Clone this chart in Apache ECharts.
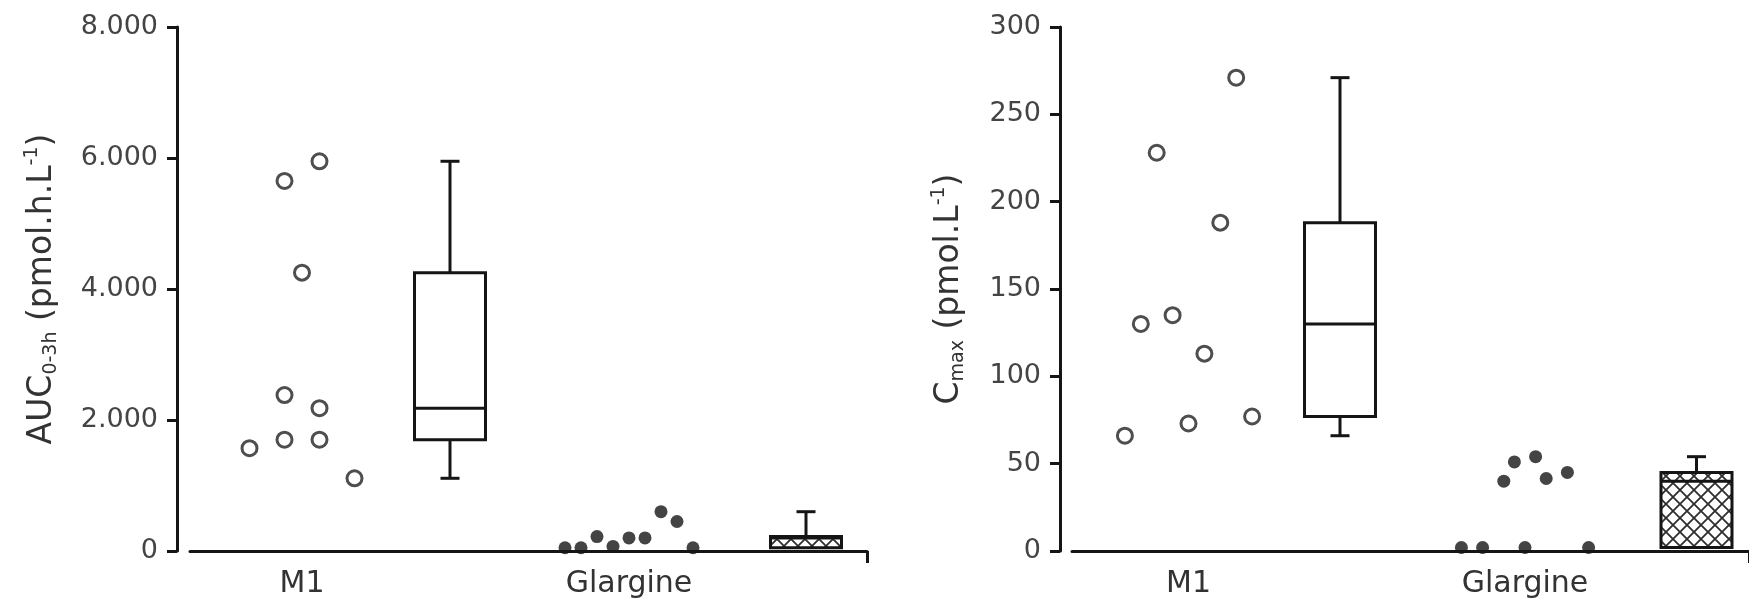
<!DOCTYPE html>
<html>
<head>
<meta charset="utf-8">
<script src="https://cdn.jsdelivr.net/npm/echarts@6/dist/echarts.min.js"></script>
<style>
  html, body { margin: 0; padding: 0; background: #fff; }
  #chart { width: 1749px; height: 609px; }
</style>
</head>
<body>
<div id="chart"></div>
<script>
// Treatment groups shown on both panels
const groups = ['M1', 'Glargine'];

// AUC 0-3h (pmol.h.L-1), one value per subject
const aucM1 = [1570, 5650, 2380, 1700, 4250, 5950, 2180, 1700, 1110];
const aucGlargine = [50, 50, 220, 70, 200, 200, 600, 450, 50];

// Cmax (pmol.L-1), one value per subject
const cmaxM1 = [66, 130, 228, 135, 73, 113, 188, 271, 77];
const cmaxGlargine = [2, 2, 40, 51, 2, 54, 41.5, 45, 2];

// y-axis ticks
const aucTicks = [0, 2000, 4000, 6000, 8000];
const cmaxTicks = [0, 50, 100, 150, 200, 250, 300];

// swarm column of each dot (left/right of the group centre)
const aucM1Cols = [-3, -1, -1, -1, 0, 1, 1, 1, 3];
const aucGlargineCols = [-4, -3, -2, -1, 0, 1, 2, 3, 4];
const cmaxM1Cols = [-4, -3, -2, -1, 0, 1, 2, 3, 4];
const cmaxGlargineCols = [-6, -4, -2, -1, 0, 1, 2, 4, 6];

// ---- layout (x axis runs in pixel-like units along each panel) ----
const AXIS_LEN = 677;
const BOX_W = 71;
const CAP_W = 19;
const INK = '#151515';
const FONT = 'DejaVu Sans';

const panels = [
  { left: 190, dotsAt: [112, 439], boxAt: [260, 616], steps: [17.5, 16] },
  { left: 1072, dotsAt: [116.5, 453], boxAt: [268, 624.5], steps: [15.9, 10.6] }
];

// Tukey hinges: min, lower hinge, median, upper hinge, max
function fiveNumber(vals) {
  const s = vals.slice().sort((a, b) => a - b);
  const n = s.length;
  const med = a => a.length % 2 ? a[(a.length - 1) / 2] : (a[a.length / 2 - 1] + a[a.length / 2]) / 2;
  const h = Math.ceil(n / 2);
  return [s[0], med(s.slice(0, h)), med(s), med(s.slice(n - h)), s[n - 1]];
}

// cross-hatch tile used for the Glargine boxes
function hatchTile() {
  const c = document.createElement('canvas');
  const t = 14;
  c.width = t; c.height = t;
  const g = c.getContext('2d');
  g.fillStyle = '#fff';
  g.fillRect(0, 0, t, t);
  g.strokeStyle = '#2e2e2e';
  g.lineWidth = 1.8;
  g.beginPath();
  g.moveTo(-1, -1); g.lineTo(t + 1, t + 1);
  g.moveTo(t + 1, -1); g.lineTo(-1, t + 1);
  g.stroke();
  return c;
}
const hatch = { image: hatchTile(), repeat: 'repeat' };

function renderBox(hatched) {
  return function (params, api) {
    const x = api.value(0);
    const lo = api.coord([x, api.value(1)]);
    const q1 = api.coord([x, api.value(2)]);
    const md = api.coord([x, api.value(3)]);
    const q3 = api.coord([x, api.value(4)]);
    const hi = api.coord([x, api.value(5)]);
    const cx = lo[0];
    const hw = BOX_W / 2, hc = CAP_W / 2;
    const ls = { stroke: INK, lineWidth: 3, fill: null };
    const seg = (x1, y1, x2, y2) => ({ type: 'line', shape: { x1, y1, x2, y2 }, style: ls });
    const kids = [];
    if (hi[1] < q3[1] - 0.5) {
      kids.push(seg(cx, hi[1], cx, q3[1]));
      kids.push(seg(cx - hc, hi[1], cx + hc, hi[1]));
    }
    if (lo[1] > q1[1] + 0.5) {
      kids.push(seg(cx, q1[1], cx, lo[1]));
      kids.push(seg(cx - hc, lo[1], cx + hc, lo[1]));
    }
    kids.push({
      type: 'rect',
      shape: { x: cx - hw, y: q3[1], width: BOX_W, height: q1[1] - q3[1] },
      style: { fill: hatched ? hatch : '#fff', stroke: INK, lineWidth: 3 }
    });
    kids.push(seg(cx - hw, md[1], cx + hw, md[1]));
    return { type: 'group', children: kids };
  };
}

function dots(values, cols, centre, step) {
  return values.map((v, i) => [centre + cols[i] * step, v]);
}

const thousands = v => String(v).replace(/\B(?=(\d{3})+(?!\d))/g, '.');

function xAxisFor(i, p) {
  return {
    type: 'value', gridIndex: i, min: 0, max: AXIS_LEN, z: 5,
    splitLine: { show: false },
    axisLine: { show: true, onZero: false, lineStyle: { color: INK, width: 3 } },
    axisTick: { show: true, customValues: [AXIS_LEN], length: 12, lineStyle: { color: INK, width: 3 } },
    axisLabel: {
      customValues: p.dotsAt,
      formatter: v => groups[p.dotsAt.indexOf(v)] || '',
      margin: 18, fontFamily: FONT, fontSize: 30, color: '#333'
    }
  };
}

function yAxisFor(i, ticks, nameRich, gap, fmt, off) {
  return {
    type: 'value', gridIndex: i, min: ticks[0], max: ticks[ticks.length - 1],
    interval: ticks[1] - ticks[0], offset: off,
    splitLine: { show: false },
    axisLine: { show: true, onZero: false, lineStyle: { color: INK, width: 3 } },
    axisTick: { show: true, length: 10, lineStyle: { color: INK, width: 3 } },
    axisLabel: { margin: 19, fontFamily: FONT, fontSize: 27, color: '#444', formatter: fmt },
    name: nameRich, nameLocation: 'middle', nameGap: gap,
    nameTextStyle: {
      fontFamily: FONT, color: '#333',
      rich: {
        n: { fontFamily: FONT, fontSize: 33, lineHeight: 38, color: '#333' },
        sub: { fontFamily: FONT, fontSize: 19, lineHeight: 18, verticalAlign: 'bottom', color: '#333' },
        sup: { fontFamily: FONT, fontSize: 19, lineHeight: 18, verticalAlign: 'top', color: '#333' }
      }
    }
  };
}

const openDot = { color: '#fff', borderColor: '#222', borderWidth: 3 };
const solidDot = { color: '#151515' };

const chart = echarts.init(document.getElementById('chart'), null, { renderer: 'canvas' });
chart.setOption({
  backgroundColor: '#fff',
  animation: false,
  grid: panels.map(p => ({ left: p.left, top: 27, width: AXIS_LEN, height: 524 })),
  xAxis: panels.map((p, i) => xAxisFor(i, p)),
  yAxis: [
    yAxisFor(0, aucTicks, '{n|AUC}{sub|0-3h}{n| (pmol.h.L}{sup|-1}{n|)}', 116, thousands, 13),
    yAxisFor(1, cmaxTicks, '{n|C}{sub|max}{n| (pmol.L}{sup|-1}{n|)}', 92, v => String(v), 12)
  ],
  series: [
    { type: 'scatter', xAxisIndex: 0, yAxisIndex: 0, symbolSize: 15, itemStyle: openDot,
      data: dots(aucM1, aucM1Cols, panels[0].dotsAt[0], panels[0].steps[0]) },
    { type: 'scatter', xAxisIndex: 0, yAxisIndex: 0, symbolSize: 13, itemStyle: solidDot,
      data: dots(aucGlargine, aucGlargineCols, panels[0].dotsAt[1], panels[0].steps[1]) },
    { type: 'custom', xAxisIndex: 0, yAxisIndex: 0, renderItem: renderBox(false),
      encode: { x: 0, y: [1, 2, 3, 4, 5] },
      data: [[panels[0].boxAt[0], ...fiveNumber(aucM1)]] },
    { type: 'custom', xAxisIndex: 0, yAxisIndex: 0, renderItem: renderBox(true),
      encode: { x: 0, y: [1, 2, 3, 4, 5] },
      data: [[panels[0].boxAt[1], ...fiveNumber(aucGlargine)]] },

    { type: 'scatter', xAxisIndex: 1, yAxisIndex: 1, symbolSize: 15, itemStyle: openDot,
      data: dots(cmaxM1, cmaxM1Cols, panels[1].dotsAt[0], panels[1].steps[0]) },
    { type: 'scatter', xAxisIndex: 1, yAxisIndex: 1, symbolSize: 13, itemStyle: solidDot,
      data: dots(cmaxGlargine, cmaxGlargineCols, panels[1].dotsAt[1], panels[1].steps[1]) },
    { type: 'custom', xAxisIndex: 1, yAxisIndex: 1, renderItem: renderBox(false),
      encode: { x: 0, y: [1, 2, 3, 4, 5] },
      data: [[panels[1].boxAt[0], ...fiveNumber(cmaxM1)]] },
    { type: 'custom', xAxisIndex: 1, yAxisIndex: 1, renderItem: renderBox(true),
      encode: { x: 0, y: [1, 2, 3, 4, 5] },
      data: [[panels[1].boxAt[1], ...fiveNumber(cmaxGlargine)]] }
  ]
});
</script>
</body>
</html>
